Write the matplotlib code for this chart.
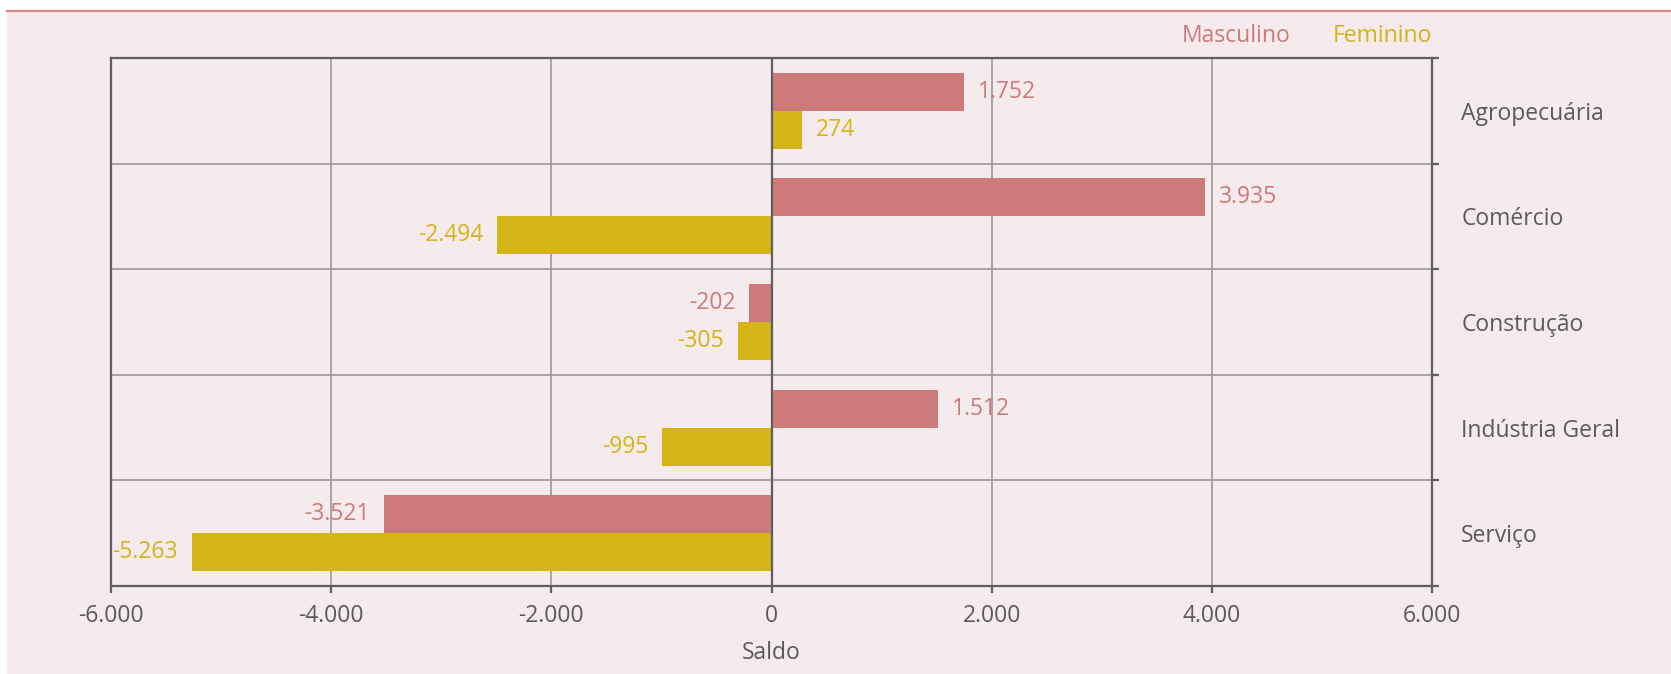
import matplotlib.pyplot as plt
import numpy as np
from matplotlib.lines import Line2D
from matplotlib.patches import Rectangle
from matplotlib.ticker import FuncFormatter, FixedLocator

# dados
setores = ["Agropecuária", "Comércio", "Construção", "Indústria Geral", "Serviço"]
masculino = [1752, 3935, -202, 1512, -3521]
feminino = [274, -2494, -305, -995, -5263]
x_ticks = [-6000, -4000, -2000, 0, 2000, 4000, 6000]

COR_M = "#CD7A7A"
COR_F = "#D5B417"
FUNDO = "#F5EAEC"
TEXTO = "#5A5A5A"
EIXO = "#5F5F5F"
GRADE = "#9A9899"

plt.rcParams["font.family"] = ["Open Sans", "DejaVu Sans"]

W, H = 1671, 674
fig = plt.figure(figsize=(W / 100, H / 100), dpi=100)
fig.patch.set_facecolor("white")

# fundo rosa + linha superior
fig.patches.append(Rectangle((7 / W, 0), 1 - 7 / W, 1 - 11 / H, transform=fig.transFigure,
                             facecolor=FUNDO, edgecolor="none", zorder=-2))
fig.lines.append(Line2D([7 / W, 1], [1 - 10.5 / H, 1 - 10.5 / H], transform=fig.transFigure,
                        color="#D98585", linewidth=1.6, zorder=-1))

left, right, top, bottom = 111, 1432, 58, 586
ax = fig.add_axes([left / W, 1 - bottom / H, (right - left) / W, (bottom - top) / H])
ax.set_facecolor(FUNDO)

y = np.arange(len(setores))
h = 0.36
ax.barh(y - h / 2, masculino, height=h, color=COR_M, zorder=2)
ax.barh(y + h / 2, feminino, height=h, color=COR_F, zorder=2)
ax.axvline(0, color=EIXO, linewidth=1.6, zorder=3)

# rótulos de valor
fmt = lambda v: f"{v:,.0f}".replace(",", ".")
for serie, cor, dy in ((masculino, COR_M, -h / 2), (feminino, COR_F, h / 2)):
    for yi, v in zip(y, serie):
        off = 10 if v >= 0 else -10
        ax.annotate(fmt(v), (v, yi + dy), xytext=(off, 0), textcoords="offset points",
                    ha="left" if v >= 0 else "right", va="center",
                    color=cor, fontsize=16.5, zorder=4)

ax.set_xlim(-6000, 6000)
ax.set_ylim(len(setores) - 0.5, -0.5)

ax.xaxis.set_major_locator(FixedLocator(x_ticks))
ax.xaxis.set_major_formatter(FuncFormatter(lambda v, _p: fmt(v)))
ax.tick_params(axis="x", direction="out", length=5, width=1.6, color=EIXO,
               labelsize=16.5, labelcolor=TEXTO, pad=8)
ax.grid(True, axis="x", color=GRADE, linewidth=1.2, zorder=1)

# categorias à direita, limites das faixas como grade
ax.yaxis.tick_right()
ax.set_yticks(y)
ax.set_yticklabels(setores)
ax.set_yticks(np.arange(-0.5, len(setores), 1), minor=True)
ax.tick_params(axis="y", which="major", length=0, pad=21, labelsize=16.5, labelcolor=TEXTO)
ax.tick_params(axis="y", which="minor", direction="out", length=5, width=1.6, color=EIXO,
               right=True, left=False)
ax.grid(True, axis="y", which="minor", color=GRADE, linewidth=1.2, zorder=1)
ax.set_axisbelow(True)
for lbl in ax.get_yticklabels():
    lbl.set_horizontalalignment("left")

for s in ax.spines.values():
    s.set_color(EIXO)
    s.set_linewidth(1.6)

ax.set_xlabel("Saldo", fontsize=16.5, color=TEXTO, labelpad=9)

# legenda em texto
fig.text(1291 / W, 1 - 36 / H, "Masculino", color=COR_M, fontsize=16.5, ha="right", va="center")
fig.text(1432 / W, 1 - 36 / H, "Feminino", color=COR_F, fontsize=16.5, ha="right", va="center")

fig.savefig("out.png", dpi=100, facecolor=fig.get_facecolor())
